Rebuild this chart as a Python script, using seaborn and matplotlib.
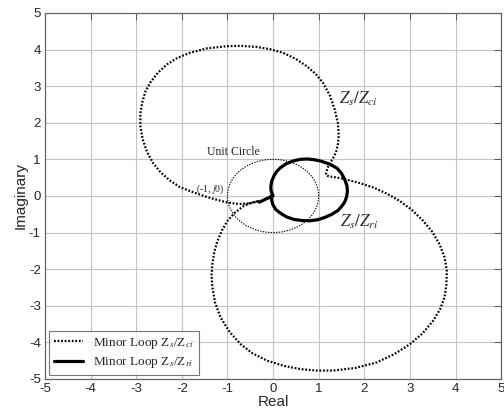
import numpy as np
import pandas as pd
import matplotlib
matplotlib.use("Agg")
import matplotlib.pyplot as plt
import seaborn as sns

# ---- data ----
zci_re = [-0.31, -0.49, -0.75, -1.00, -1.25, -1.45, -1.75, -2.04, -2.27, -2.47, -2.63,
          -2.76, -2.86, -2.91, -2.91, -2.87, -2.80, -2.69, -2.53, -2.33, -2.10, -1.82,
          -1.45, -1.02, -0.70, -0.36, -0.07, 0.22, 0.49, 0.73, 0.93, 1.09, 1.24, 1.35,
          1.42, 1.44, 1.42, 1.38, 1.31, 1.24, 1.20, 1.18, 1.16, 1.17, 1.23, 1.31, 1.45,
          1.60, 1.90, 2.20, 2.50, 2.78, 3.05, 3.29, 3.49, 3.65, 3.76, 3.81, 3.80, 3.76,
          3.66, 3.51, 3.28, 3.00, 2.66, 2.27, 1.80, 1.32, 0.95, 0.60, 0.23, -0.13,
          -0.45, -0.71, -0.95, -1.15, -1.27, -1.33, -1.35, -1.33, -1.29, -1.22, -1.12,
          -1.00, -0.83, -0.64, -0.47, -0.31]
zci_im = [-0.14, -0.20, -0.22, -0.18, -0.10, -0.03, 0.10, 0.24, 0.43, 0.65, 0.90,
          1.19, 1.55, 1.92, 2.25, 2.55, 2.85, 3.10, 3.36, 3.59, 3.77, 3.91,
          4.03, 4.09, 4.10, 4.07, 4.01, 3.91, 3.75, 3.55, 3.34, 3.10, 2.76, 2.37,
          2.00, 1.65, 1.40, 1.19, 1.02, 0.88, 0.78, 0.70, 0.62, 0.56, 0.53, 0.52, 0.49,
          0.45, 0.35, 0.23, 0.06, -0.14, -0.39, -0.68, -0.98, -1.32, -1.68, -2.05, -2.42, -2.77,
          -3.10, -3.41, -3.75, -4.05, -4.32, -4.55, -4.70, -4.77, -4.77, -4.73, -4.64, -4.50,
          -4.30, -4.05, -3.72, -3.32, -2.92, -2.50, -2.17, -1.86, -1.54, -1.23, -0.94,
          -0.68, -0.45, -0.27, -0.18, -0.14]

zri_re = [-0.30, -0.15, 0.00, -0.04, -0.05, -0.03, 0.02, 0.08, 0.16, 0.29, 0.45, 0.60,
          0.75, 0.90, 1.05, 1.24, 1.40, 1.50, 1.57, 1.62, 1.63, 1.61, 1.57, 1.50, 1.42,
          1.29, 1.15, 0.98, 0.80, 0.62, 0.45, 0.29, 0.16, 0.06, 0.00, -0.03, -0.04]
zri_im = [-0.17, -0.08, 0.00, 0.12, 0.25, 0.40, 0.55, 0.67, 0.77, 0.88, 0.96, 1.00,
          1.01, 0.99, 0.95, 0.87, 0.76, 0.62, 0.45, 0.28, 0.12, -0.03, -0.17, -0.29, -0.40,
          -0.50, -0.58, -0.65, -0.68, -0.67, -0.64, -0.57, -0.47, -0.37, -0.25, -0.12, 0.00]

unit_radius = 1.0
unit_angles_deg = list(range(0, 361, 3))

xticks = [-5, -4, -3, -2, -1, 0, 1, 2, 3, 4, 5]
yticks = [-5, -4, -3, -2, -1, 0, 1, 2, 3, 4, 5]

label_ci = r"Minor Loop Z$_s$/Z$_{ci}$"
label_ri = r"Minor Loop Z$_s$/Z$_{ri}$"

# ---- style ----
sns.set_style("white")
plt.rcParams["font.family"] = ["Liberation Sans", "DejaVu Sans"]
plt.rcParams["mathtext.fontset"] = "stix"

fig = plt.figure(figsize=(5.04, 4.16), dpi=100)
ax = fig.add_axes([0.0893, 0.089, 0.905, 0.880])

ang = np.deg2rad(unit_angles_deg)
unit_df = pd.DataFrame({"re": unit_radius * np.cos(ang), "im": unit_radius * np.sin(ang)})
ci_df = pd.DataFrame({"re": zci_re, "im": zci_im})
ri_df = pd.DataFrame({"re": zri_re, "im": zri_im})

sns.lineplot(data=unit_df, x="re", y="im", sort=False, estimator=None, ax=ax,
             color="black", lw=0.8, linestyle=(0, (1.2, 1.2)), zorder=3)
sns.lineplot(data=ci_df, x="re", y="im", sort=False, estimator=None, ax=ax,
             color="black", lw=1.6, linestyle=(0, (0.8, 0.8)), label=label_ci, zorder=4)
sns.lineplot(data=ri_df, x="re", y="im", sort=False, estimator=None, ax=ax,
             color="black", lw=2.3, linestyle="-", label=label_ri, zorder=5)
for ln in ax.get_lines():
    ln.set_solid_joinstyle("round")
    ln.set_dash_joinstyle("round")

ax.set_xlim(-5, 5)
ax.set_ylim(-5, 5)
ax.set_xticks(xticks)
ax.set_yticks(yticks)
ax.set_xticklabels([str(t) for t in xticks])
ax.set_yticklabels([str(t) for t in yticks])
ax.grid(True, color="#c4c4c4", lw=0.8)
ax.set_axisbelow(True)
ax.tick_params(direction="in", top=True, right=True, length=5, width=0.7,
               labelsize=9.5, color="#555555", pad=3)
for s in ax.spines.values():
    s.set_color("#666666")
    s.set_linewidth(0.9)

ax.set_xlabel("Real", fontsize=11, labelpad=0)
ax.set_ylabel("Imaginary", fontsize=11, labelpad=1)

serif = ["Liberation Serif", "DejaVu Serif"]
ax.text(1.87, 2.65, r"$Z_s/Z_{ci}$", fontsize=12, ha="center", va="center", family=serif)
ax.text(1.88, -0.72, r"$Z_s/Z_{ri}$", fontsize=12, ha="center", va="center", family=serif)
ax.text(-0.88, 1.2, "Unit Circle", fontsize=8.5, ha="center", va="center", family=serif)
ax.text(-1.38, 0.19, r"(-1, $j$0)", fontsize=7, ha="center", va="center", family=serif)

leg = ax.legend(loc="lower left", prop={"family": serif, "size": 9.5},
                frameon=True, fancybox=False, borderaxespad=0.3, handlelength=2.2,
                borderpad=0.35, labelspacing=0.35, handletextpad=0.8)
leg.get_frame().set_edgecolor("#555555")
leg.get_frame().set_linewidth(0.8)

fig.savefig("out.png", dpi=100)
